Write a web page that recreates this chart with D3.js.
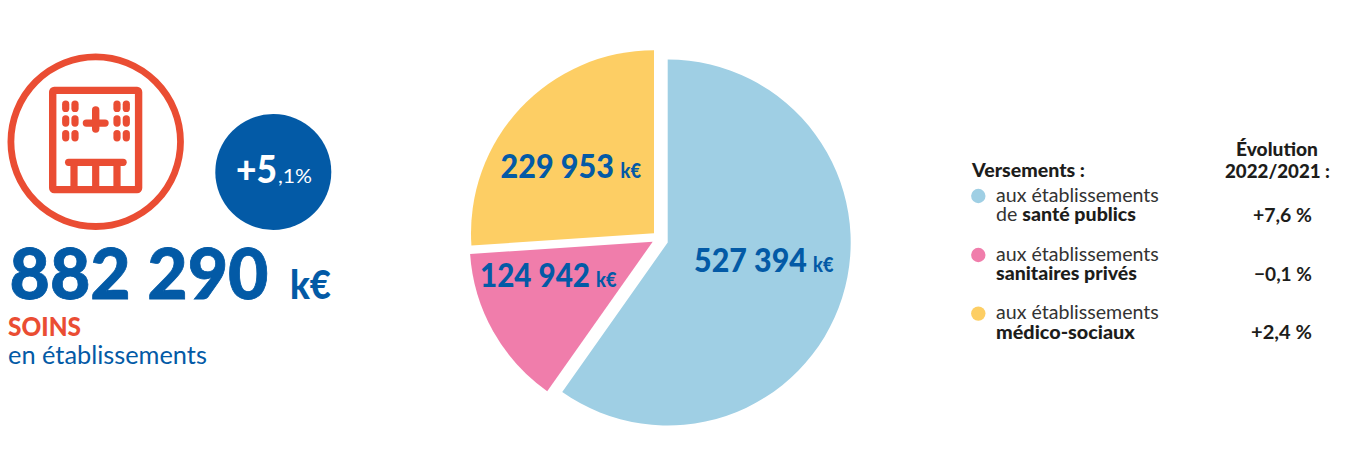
<!DOCTYPE html>
<html lang="fr">
<head>
<meta charset="utf-8">
<script src="https://cdn.jsdelivr.net/npm/d3@7/dist/d3.min.js"></script>
<style>
html,body{margin:0;padding:0;background:#fff}
svg{display:block}
text{font-family:Lato,"Noto Sans",sans-serif;font-kerning:normal}
</style>
</head>
<body>
<svg id="c" width="1369" height="450" viewBox="0 0 1369 450"></svg>
<script>
const categories = ["santé publics", "sanitaires privés", "médico-sociaux"];
const legendFirst = ["aux établissements", "aux établissements", "aux établissements"];
const legendPrefix = ["de ", "", ""];
const paymentValues = [527394, 124942, 229953];
const evolutionLabels = ["+7,6 %", "−0,1 %", "+2,4 %"];
const totalValue = 882290;
const totalEvolutionMain = "+5";
const totalEvolutionRest = ",1%";
const titleMain = "SOINS";
const titleSub = "en établissements";
const legendTitle = "Versements :";
const evolutionTitle = ["Évolution", "2022/2021 :"];
const unit = "k€";

const BLUE = "#035aa6", RED = "#ea4d33", INK = "#1d1d1b";
const colors = d3.scaleOrdinal().domain(categories).range(["#9fcfe4", "#f07dab", "#fdce64"]);
const fr = d3.formatLocale({decimal: ",", thousands: "\u00a0", grouping: [3], currency: ["", "€"]});
const fmt = fr.format(",d");

const svg = d3.select("#c");

/* Draws a text whose left edge is x and, when a width is given, scales it horizontally to that width. */
function put(g, x, y, str, size, weight, fill, width, opts) {
  const o = opts || {};
  const t = g.append("text").attr("font-size", size).attr("font-weight", weight).attr("fill", fill);
  if (o.build) o.build(t); else t.text(str);
  if (o.stroke) t.attr("stroke", fill).attr("stroke-width", o.stroke);
  let sx = 1;
  const natural = t.node().getComputedTextLength();
  if (width) sx = width / natural;
  let left = x;
  if (o.anchor === "end") left = x - natural * sx;
  if (o.anchor === "middle") left = x - natural * sx / 2;
  t.attr("transform", `translate(${left},${y}) scale(${sx},1)`);
  return t;
}

/* ---------- pie ---------- */
const R = 183;
const pieCentre = [667.7, 242.5];
const explode = [[0, 0], [-15, -0.8], [-13.7, -9.2]];
const labelLayout = [
  {x: 694, y: 271.7, w: 113, ux: 813, uw: 20.5},
  {x: 480, y: 287.3, w: 110, ux: 596, uw: 20.5},
  {x: 500.5, y: 178.3, w: 113.5, ux: 620.5, uw: 20.5}
];
const pie = d3.pie().sort(null).value(d => d)(paymentValues);
const arc = d3.arc().innerRadius(0).outerRadius(R);
const pg = svg.append("g").attr("transform", `translate(${pieCentre})`);
pg.selectAll("path").data(pie).join("path")
  .attr("d", arc)
  .attr("transform", (d, i) => `translate(${explode[i]})`)
  .attr("fill", (d, i) => colors(categories[i]));
paymentValues.forEach((v, i) => {
  const l = labelLayout[i];
  put(svg, l.x, l.y, fmt(v), 33, 900, BLUE, l.w);
  put(svg, l.ux, l.y, unit, 20, 900, BLUE, l.uw);
});

/* ---------- left block ---------- */
const left = svg.append("g");
left.append("circle").attr("cx", 95.7).attr("cy", 141.7).attr("r", 84.8)
  .attr("fill", "none").attr("stroke", RED).attr("stroke-width", 6.8);
const icon = left.append("g").attr("fill", RED);
icon.append("rect").attr("x", 52.7).attr("y", 90.4).attr("width", 85.9).attr("height", 99.2)
  .attr("rx", 1.5).attr("fill", "none").attr("stroke", RED).attr("stroke-width", 7.4);
[65.7, 75, 117, 126.3].forEach(x => [106.3, 121, 135.7].forEach(y => {
  icon.append("rect").attr("x", x - 3.6).attr("y", y - 5.7).attr("width", 7.2).attr("height", 11.4).attr("rx", 3.6);
}));
icon.append("rect").attr("x", 82.7).attr("y", 119.4).attr("width", 26).attr("height", 7.4).attr("rx", 3.7);
icon.append("rect").attr("x", 92).attr("y", 106.2).attr("width", 7.4).attr("height", 26.5).attr("rx", 3.7);
icon.append("rect").attr("x", 65).attr("y", 158.7).attr("width", 61.7).attr("height", 7.2).attr("rx", 3.6);
[74, 95.7, 117].forEach(x => icon.append("rect").attr("x", x - 3.6).attr("y", 160).attr("width", 7.2).attr("height", 30));

left.append("circle").attr("cx", 273.3).attr("cy", 172).attr("r", 58).attr("fill", BLUE);
put(left, 236, 183, totalEvolutionMain, 38, 900, "#fff", 41);
put(left, 278, 183, totalEvolutionRest, 20, 400, "#fff", 34);

put(left, 9.5, 299, fmt(totalValue), 71, 900, BLUE, 259, {stroke: 0.8});
put(left, 290, 299, unit, 40, 900, BLUE, 41);
put(left, 8, 336, titleMain, 27, 900, RED, 73);
put(left, 8, 364, titleSub, 25, 400, BLUE, 199);

/* ---------- legend ---------- */
const lg = svg.append("g");
const rowY = [201.7, 260.7, 319.3];
const secondWidths = [140, 141, 139];
const valueWidths = [59, 58, 61];
put(lg, 972, 177, legendTitle, 18.5, 900, INK, 113);
put(lg, 1277, 156, evolutionTitle[0], 19, 900, INK, 82, {anchor: "middle"});
put(lg, 1225, 178, evolutionTitle[1], 19, 900, INK, 105);
categories.forEach((c, i) => {
  const y = rowY[i];
  lg.append("circle").attr("cx", 978.3).attr("cy", y - 5.7).attr("r", 7.2).attr("fill", colors(c));
  put(lg, 996, y, legendFirst[i], 18.5, 400, "#333", 163);
  put(lg, 996, y + 19.5, "", 18.5, 400, "#333", secondWidths[i], {build: t => {
    if (legendPrefix[i]) t.append("tspan").text(legendPrefix[i]);
    t.append("tspan").attr("font-weight", 900).attr("fill", INK).text(c);
  }});
  put(lg, 1312, y + 19.8, evolutionLabels[i], 18.5, 700, INK, valueWidths[i], {anchor: "end"});
});
</script>
</body>
</html>
